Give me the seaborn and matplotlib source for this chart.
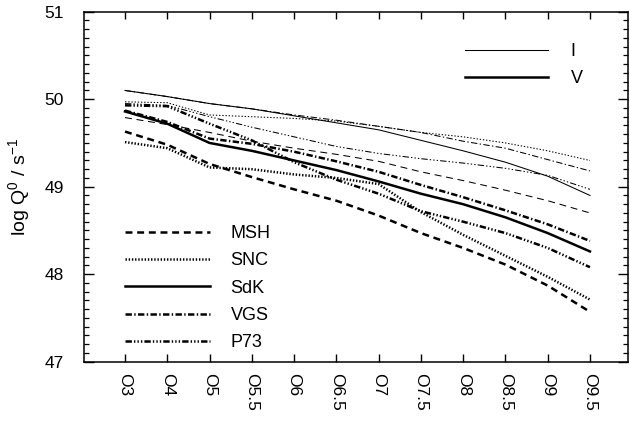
import matplotlib
matplotlib.use("Agg")
import matplotlib.pyplot as plt
from matplotlib.lines import Line2D
from matplotlib.ticker import MultipleLocator, FixedLocator
import seaborn as sns
import pandas as pd

categories = ['O3', 'O4', 'O5', 'O5.5', 'O6', 'O6.5', 'O7', 'O7.5', 'O8', 'O8.5', 'O9', 'O9.5']

# luminosity class V (thick lines)
MSH_V = [49.63, 49.48, 49.26, 49.11, 48.97, 48.84, 48.67, 48.47, 48.30, 48.11, 47.87, 47.57]
SNC_V = [49.51, 49.44, 49.22, 49.20, 49.14, 49.10, 49.03, 48.71, 48.45, 48.21, 47.97, 47.71]
SdK_V = [49.86, 49.72, 49.50, 49.41, 49.30, 49.19, 49.06, 48.92, 48.80, 48.65, 48.47, 48.26]
VGS_V = [49.87, 49.74, 49.55, 49.49, 49.40, 49.29, 49.17, 49.02, 48.88, 48.73, 48.57, 48.38]
P73_V = [49.93, 49.92, 49.72, 49.53, 49.28, 49.08, 48.92, 48.72, 48.60, 48.47, 48.30, 48.08]

# luminosity class I (thin lines)
MSH_I = [49.79, 49.71, 49.62, 49.52, 49.44, 49.37, 49.29, 49.17, 49.07, 48.96, 48.84, 48.70]
SNC_I = [49.97, 49.96, 49.82, 49.80, 49.78, 49.75, 49.69, 49.62, 49.57, 49.50, 49.41, 49.30]
SdK_I = [50.10, 50.03, 49.95, 49.89, 49.81, 49.73, 49.65, 49.53, 49.41, 49.28, 49.12, 48.90]
VGS_I = [50.10, 50.03, 49.95, 49.89, 49.82, 49.76, 49.69, 49.62, 49.52, 49.44, 49.31, 49.18]
P73_I = [49.95, 49.93, 49.80, 49.68, 49.57, 49.46, 49.38, 49.32, 49.27, 49.21, 49.13, 48.97]

model_names = ['MSH', 'SNC', 'SdK', 'VGS', 'P73']
class_names = ['I', 'V']

plt.rcParams['font.family'] = ['Liberation Sans', 'DejaVu Sans']
plt.rcParams['mathtext.fontset'] = 'custom'
plt.rcParams['mathtext.rm'] = 'Liberation Sans'
plt.rcParams['mathtext.it'] = 'Liberation Sans'

# dash patterns in points (converted to linewidth units below)
dash_pts = {
    'MSH': (5.0, 3.4),
    'SNC': (1.0, 1.3),
    'SdK': None,
    'VGS': (4.6, 1.7, 1.0, 1.7),
    'P73': (4.6, 1.5, 1.0, 1.5, 1.0, 1.5, 1.0, 1.5),
}
widths = {'I': 0.75, 'V': 1.8}


def line_style(model, lw):
    pat = dash_pts[model]
    if pat is None:
        return '-'
    return (0, tuple(p / lw for p in pat))


series = {
    ('MSH', 'I'): MSH_I, ('SNC', 'I'): SNC_I, ('SdK', 'I'): SdK_I,
    ('VGS', 'I'): VGS_I, ('P73', 'I'): P73_I,
    ('MSH', 'V'): MSH_V, ('SNC', 'V'): SNC_V, ('SdK', 'V'): SdK_V,
    ('VGS', 'V'): VGS_V, ('P73', 'V'): P73_V,
}

rows = []
for (m, c), vals in series.items():
    for i, v in enumerate(vals):
        rows.append({'model': m, 'cls': c, 'idx': i, 'logQ': v})
df = pd.DataFrame(rows)

fig = plt.figure(figsize=(6.30, 4.26), dpi=100, facecolor='white')
ax = fig.add_axes([84 / 630, (426 - 361.7) / 426, 544 / 630, 350 / 426])

for (m, c), sub in df.groupby(['model', 'cls'], sort=False):
    sns.lineplot(data=sub, x='idx', y='logQ', ax=ax, color='black',
                 linewidth=widths[c], linestyle=line_style(m, widths[c]),
                 legend=False, estimator=None, sort=False)

ax.set_xlim(-0.97, 11.9)
ax.set_ylim(47, 51)
for s in ax.spines.values():
    s.set_linewidth(1.1)
    s.set_color('black')

ax.set_xlabel('')
ax.set_ylabel(r'log Q$^\mathregular{0}$ / s$^\mathregular{-1}$', fontsize=14, labelpad=9)

# legend for models (bottom left)
h1 = [Line2D([], [], color='black', linewidth=widths['V'],
             linestyle=line_style(m, widths['V'])) for m in model_names]
leg1 = ax.legend(h1, model_names, loc='lower left', bbox_to_anchor=(0.075, 0.03),
                 frameon=False, fontsize=13, handlelength=4.7, handletextpad=1.15,
                 labelspacing=0.57, borderpad=0, borderaxespad=0)
ax.add_artist(leg1)

# legend for luminosity class (top right)
h2 = [Line2D([], [], color='black', linewidth=widths[c], linestyle='-') for c in class_names]
ax.legend(h2, class_names, loc='upper left', bbox_to_anchor=(0.70, 0.91),
          frameon=False, fontsize=13, handlelength=4.6, handletextpad=1.25,
          labelspacing=0.57, borderpad=0, borderaxespad=0)

# tick positions and labels
ax.xaxis.set_major_locator(FixedLocator(list(range(len(categories)))))
ax.set_xticklabels(categories, rotation=-90, fontsize=12.5)
ax.yaxis.set_major_locator(MultipleLocator(1))
ax.yaxis.set_minor_locator(MultipleLocator(0.1))
ax.tick_params(axis='y', which='major', direction='in', length=0,
               left=True, right=True, labelsize=12.5, pad=14.5, colors='black')
ax.tick_params(axis='y', which='minor', direction='in', length=0,
               left=True, right=True, colors='black')
ax.tick_params(axis='x', which='major', direction='in', length=0,
               bottom=True, top=True, labelsize=12.5, pad=8, colors='black')

# inward tick marks on all four sides, placed at the locator positions
ytr = ax.get_yaxis_transform()
xtr = ax.get_xaxis_transform()
ylo, yhi = ax.get_ylim()
ymaj_len, ymin_len, x_len = 0.0185, 0.0092, 0.021
for yv in ax.yaxis.get_majorticklocs():
    if ylo <= yv <= yhi:
        ax.plot([0, ymaj_len], [yv, yv], color='black', lw=1.0, transform=ytr,
                clip_on=False, solid_capstyle='butt', zorder=3)
        ax.plot([1 - ymaj_len, 1], [yv, yv], color='black', lw=1.0, transform=ytr,
                clip_on=False, solid_capstyle='butt', zorder=3)
for yv in ax.yaxis.get_minorticklocs():
    if ylo <= yv <= yhi:
        ax.plot([0, ymin_len], [yv, yv], color='black', lw=0.9, transform=ytr,
                clip_on=False, solid_capstyle='butt', zorder=3)
        ax.plot([1 - ymin_len, 1], [yv, yv], color='black', lw=0.9, transform=ytr,
                clip_on=False, solid_capstyle='butt', zorder=3)
for xv in ax.xaxis.get_majorticklocs():
    ax.plot([xv, xv], [0, x_len], color='black', lw=1.0, transform=xtr,
            clip_on=False, solid_capstyle='butt', zorder=3)
    ax.plot([xv, xv], [1 - x_len, 1], color='black', lw=1.0, transform=xtr,
            clip_on=False, solid_capstyle='butt', zorder=3)

ax.set_xlim(-0.97, 11.9)
ax.set_ylim(47, 51)

fig.savefig('out.png', dpi=100, facecolor='white')
